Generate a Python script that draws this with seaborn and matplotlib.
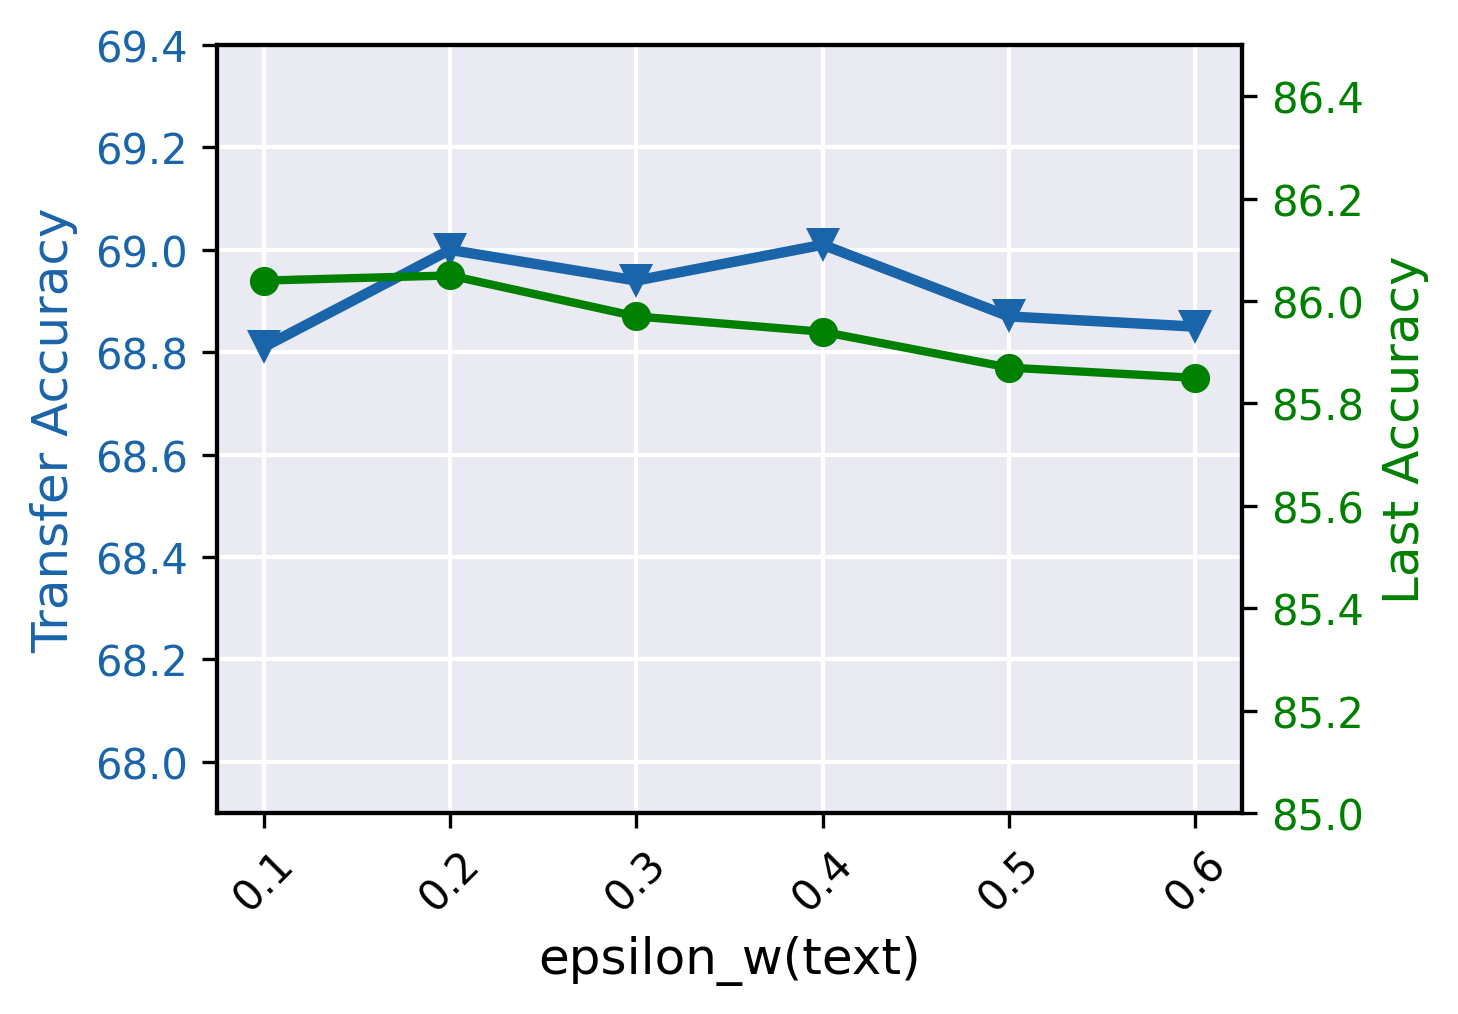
import numpy as np
import pandas as pd
import matplotlib
matplotlib.use("Agg")
import matplotlib.pyplot as plt
import seaborn as sns

# data
epsilon_w = [0.1, 0.2, 0.3, 0.4, 0.5, 0.6]
transfer_acc = [68.81, 69.00, 68.94, 69.01, 68.87, 68.85]
last_acc = [86.04, 86.05, 85.97, 85.94, 85.87, 85.85]

BLUE = '#1a64aa'
GREEN = 'green'

sns.set_theme(style='darkgrid')
plt.rcParams['font.family'] = ['DejaVu Sans']

df = pd.DataFrame({'eps': epsilon_w, 'transfer': transfer_acc, 'last': last_acc})

fig, ax1 = plt.subplots(figsize=(4.86, 3.383), dpi=300)
fig.subplots_adjust(left=0.1488, right=0.8519, top=0.9547, bottom=0.198)

sns.lineplot(data=df, x='eps', y='transfer', ax=ax1, color=BLUE, marker='v',
             markersize=8, markeredgewidth=0, linewidth=2.5)
ax1.set_ylim(67.9, 69.4)
ax1.set_yticks(np.arange(68.0, 69.41, 0.2))
ax1.set_ylabel('Transfer Accuracy', color=BLUE, fontsize=12)
ax1.set_xlabel('epsilon_w(text)', fontsize=12, color='black')
ax1.set_xticks(epsilon_w)
ax1.set_xticklabels([f'{v:.1f}' for v in epsilon_w], rotation=45)
ax1.tick_params(axis='y', labelcolor=BLUE, labelsize=10, left=True, length=3.5, width=0.8)
ax1.tick_params(axis='x', labelcolor='black', labelsize=10, bottom=True, length=3.5, width=0.8)

ax2 = ax1.twinx()
sns.lineplot(data=df, x='eps', y='last', ax=ax2, color=GREEN, marker='o',
             markersize=7, markeredgewidth=0, linewidth=2.0)
ax2.set_ylim(85.0, 86.5)
ax2.set_yticks(np.arange(85.0, 86.41, 0.2))
ax2.set_ylabel('Last Accuracy', color=GREEN, fontsize=12)
ax2.tick_params(axis='y', labelcolor=GREEN, labelsize=10, right=True, length=3.5, width=0.8)
ax2.grid(False)

for ax in (ax1, ax2):
    for s in ax.spines.values():
        s.set_visible(True)
        s.set_color('black')
        s.set_linewidth(1.0)
ax1.tick_params(axis='both', color='black')
ax2.tick_params(axis='y', color='black')

fig.savefig('out.png', dpi=300)
